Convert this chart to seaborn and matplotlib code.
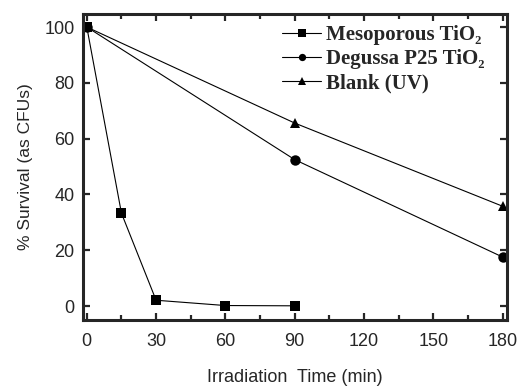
import pandas as pd
import numpy as np
import seaborn as sns
import matplotlib.pyplot as plt
from matplotlib.ticker import MultipleLocator

# dados
series = ['Mesoporous TiO₂', 'Degussa P25 TiO₂', 'Blank (UV)']
meso_t = [0, 15, 30, 60, 90]
meso_s = [100, 33.3, 2.1, 0.2, 0.1]
p25_t = [0, 90, 180]
p25_s = [100, 52.5, 17.6]
blank_t = [0, 90, 180]
blank_s = [100, 65.6, 35.8]

df = pd.concat([
    pd.DataFrame({'t': meso_t, 's': meso_s, 'amostra': series[0]}),
    pd.DataFrame({'t': p25_t, 's': p25_s, 'amostra': series[1]}),
    pd.DataFrame({'t': blank_t, 's': blank_s, 'amostra': series[2]}),
])

sns.set_style("ticks")
plt.rcParams['font.family'] = ['Liberation Sans', 'DejaVu Sans']

fig = plt.figure(figsize=(5.18, 3.87), dpi=100)
ax = fig.add_axes([0.160, 0.173, 0.819, 0.791])

sns.lineplot(data=df, x='t', y='s', hue='amostra', style='amostra',
             palette=['black'] * 3, markers=['s', 'o', '^'], dashes=False,
             markersize=7.5, linewidth=0.8, markeredgewidth=0,
             hue_order=series, style_order=series, ax=ax)

ax.set_xlim(-1.7, 182)
ax.set_ylim(-5, 104.7)
ax.xaxis.set_major_locator(MultipleLocator(30))
ax.xaxis.set_minor_locator(MultipleLocator(15))
ax.yaxis.set_major_locator(MultipleLocator(20))
ax.tick_params(which='both', direction='in', top=True, right=True,
               width=1.6, labelsize=13)
ax.tick_params(axis='x', pad=9)
ax.tick_params(axis='y', pad=6)
ax.tick_params(which='major', length=5)
ax.tick_params(which='minor', length=3.5)
for sp in ax.spines.values():
    sp.set_linewidth(2.2)

ax.set_xlabel('Irradiation  Time (min)', fontsize=13, labelpad=14)
ax.set_ylabel('% Survival (as CFUs)', fontsize=12.5, labelpad=8)

ax.legend(loc='upper right', bbox_to_anchor=(0.975, 1.005), frameon=False,
          handlelength=1.9, handletextpad=0.2, labelspacing=0.2,
          borderaxespad=0.2, markerscale=0.7,
          prop={'family': ['Liberation Serif', 'DejaVu Serif'],
                'weight': 'bold', 'size': 15})

plt.savefig('out.png', dpi=100)
